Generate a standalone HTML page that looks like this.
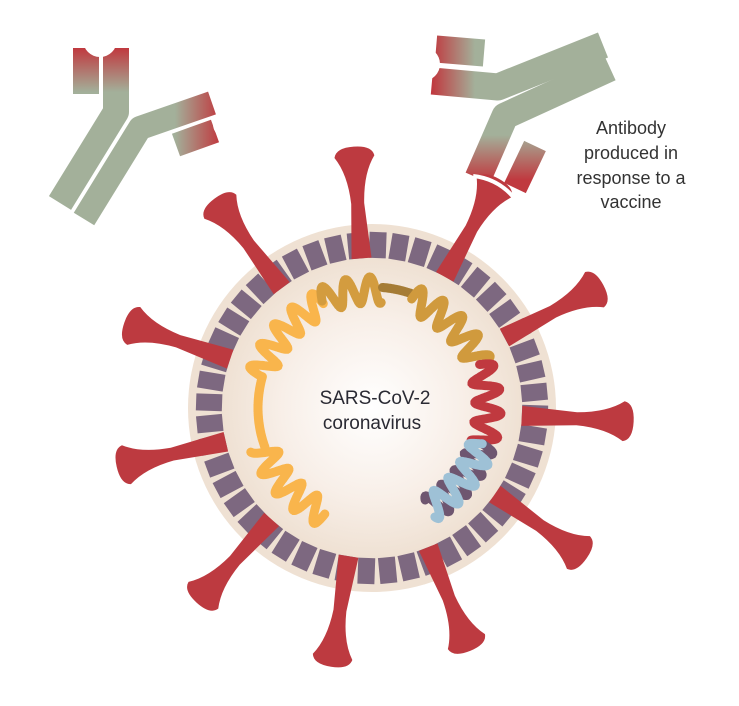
<!DOCTYPE html>
<html><head><meta charset="utf-8"><style>
html,body{margin:0;padding:0;background:#fff;}
svg{display:block;}
text{font-family:"Liberation Sans",sans-serif;}
</style></head><body>
<svg id="s" width="739" height="706" viewBox="0 0 739 706" xmlns="http://www.w3.org/2000/svg">
<defs>
<radialGradient id="inner" cx="372" cy="408" r="150" gradientUnits="userSpaceOnUse">
<stop offset="0" stop-color="#ffffff"/><stop offset="0.6" stop-color="#f8efe8"/><stop offset="1" stop-color="#efe1d3"/></radialGradient>
<linearGradient id="gA" x1="0" y1="48" x2="0" y2="92" gradientUnits="userSpaceOnUse"><stop offset="0" stop-color="#c0393f"/><stop offset="1" stop-color="#a3b09a"/></linearGradient>
<linearGradient id="gB" x1="220" y1="0" x2="175" y2="0" gradientUnits="userSpaceOnUse"><stop offset="0" stop-color="#c0393f"/><stop offset="1" stop-color="#a3b09a"/></linearGradient>
<linearGradient id="gC" x1="432" y1="0" x2="475" y2="0" gradientUnits="userSpaceOnUse"><stop offset="0" stop-color="#c0393f"/><stop offset="1" stop-color="#a3b09a"/></linearGradient>
<linearGradient id="gD" x1="0" y1="180" x2="0" y2="135" gradientUnits="userSpaceOnUse"><stop offset="0" stop-color="#c0393f"/><stop offset="1" stop-color="#a3b09a"/></linearGradient>
</defs>
<g fill="none" stroke-linejoin="round">
<polyline points="116,48 116,112 60,203" stroke="url(#gA)" stroke-width="26"/>
<polyline points="86,48 86,94" stroke="url(#gA)" stroke-width="26"/>
<polyline points="212,103 140,128 84,219" stroke="url(#gB)" stroke-width="24"/>
<polyline points="215,131 176,145" stroke="url(#gB)" stroke-width="24"/>
</g>
<circle cx="100" cy="40" r="17" fill="#fff"/>
<circle cx="228" cy="124" r="15" fill="#fff"/>
<g fill="none" stroke-linejoin="round">
<polyline points="436,49 484,53" stroke="url(#gC)" stroke-width="27"/>
<polyline points="432,81 498,87 603,45" stroke="url(#gC)" stroke-width="27"/>
<polyline points="610,68 505,116 478,178" stroke="url(#gD)" stroke-width="27"/>
<polyline points="535,146 515,188" stroke="url(#gD)" stroke-width="24"/>
</g>
<circle cx="423" cy="64" r="17" fill="#fff"/>
<circle cx="372" cy="408" r="184" fill="#efe1d3"/>
<circle cx="372" cy="408" r="148" fill="url(#inner)"/>
<g id="ring" transform="translate(372 408)"></g>
<g id="spikes" transform="translate(372 408)" fill="#bd3a40"></g>
<g id="coil" fill="none" stroke-linecap="round" stroke-width="9"></g>
<text x="375" y="404" font-size="19" fill="#2a2a33" text-anchor="middle">SARS-CoV-2</text>
<text x="372" y="429" font-size="19" fill="#2a2a33" text-anchor="middle">coronavirus</text>
<g font-size="18" fill="#333" text-anchor="middle">
<text x="631" y="134">Antibody</text>
<text x="631" y="159">produced in</text>
<text x="631" y="184">response to a</text>
<text x="631" y="208">vaccine</text>
</g>
</svg>
<script>
var NS="http://www.w3.org/2000/svg";
function el(t,a,p){var e=document.createElementNS(NS,t);for(var k in a)e.setAttribute(k,a[k]);p.appendChild(e);return e;}
var ring=document.getElementById('ring');
for(var i=0;i<48;i++){var a=i*7.5+2;
el('rect',{x:150,y:-8.5,width:26,height:17,fill:'#7d6880',transform:'rotate('+a+')'},ring);}
var sp=document.getElementById('spikes');
var angs=[-94,-61,-28,3,35,68,99,132,167,199,233];
angs.forEach(function(a){
var g=el('g',{transform:'rotate('+a+')'},sp);
el('path',{d:'M150,-10 L205,-6.5 Q235,-8 252,-20 Q262,-18 262,0 Q262,18 252,20 Q235,8 205,6.5 L150,10 Z'},g);
if(a==-61){el('path',{d:'M252,-24 Q262,0 252,24',fill:'none',stroke:'#fff','stroke-width':4},g);}
});
var cg=document.getElementById('coil');
function coil(a0,a1,col,R,amp,wl,ph0,plain){
var d='';var n=Math.max(20,Math.abs(a1-a0)*6);
for(var i=0;i<=n;i++){var a=(a0+(a1-a0)*i/n)*Math.PI/180;
var s=Math.abs(a-a0*Math.PI/180)*R;var r=plain?R:R+amp*Math.sin(s*2*Math.PI/wl+ph0);
var x=372+r*Math.cos(a),y=408+r*Math.sin(a);d+=(i?'L':'M')+x.toFixed(1)+','+y.toFixed(1);}
el('path',{d:d,stroke:col},cg);}
coil(114,160,'#f9b54c',116,13,22,0);
coil(160,196,'#f9b54c',114,0,22,0,true);
coil(196,245,'#f9b54c',116,13,22,0);
coil(245,275,'#d39c3f',118,13,22,0);
coil(275,290,'#a57c36',121,0,22,0,true);
coil(290,338,'#d09a3d',116,13,22,0);
coil(338,378,'#c0393f',116,13,22,0);
coil(378,420,'#6e5670',116,13,22,0);
coil(378,420,'#9ec1d6',116,13,22,Math.PI);
</script>
</body></html>
